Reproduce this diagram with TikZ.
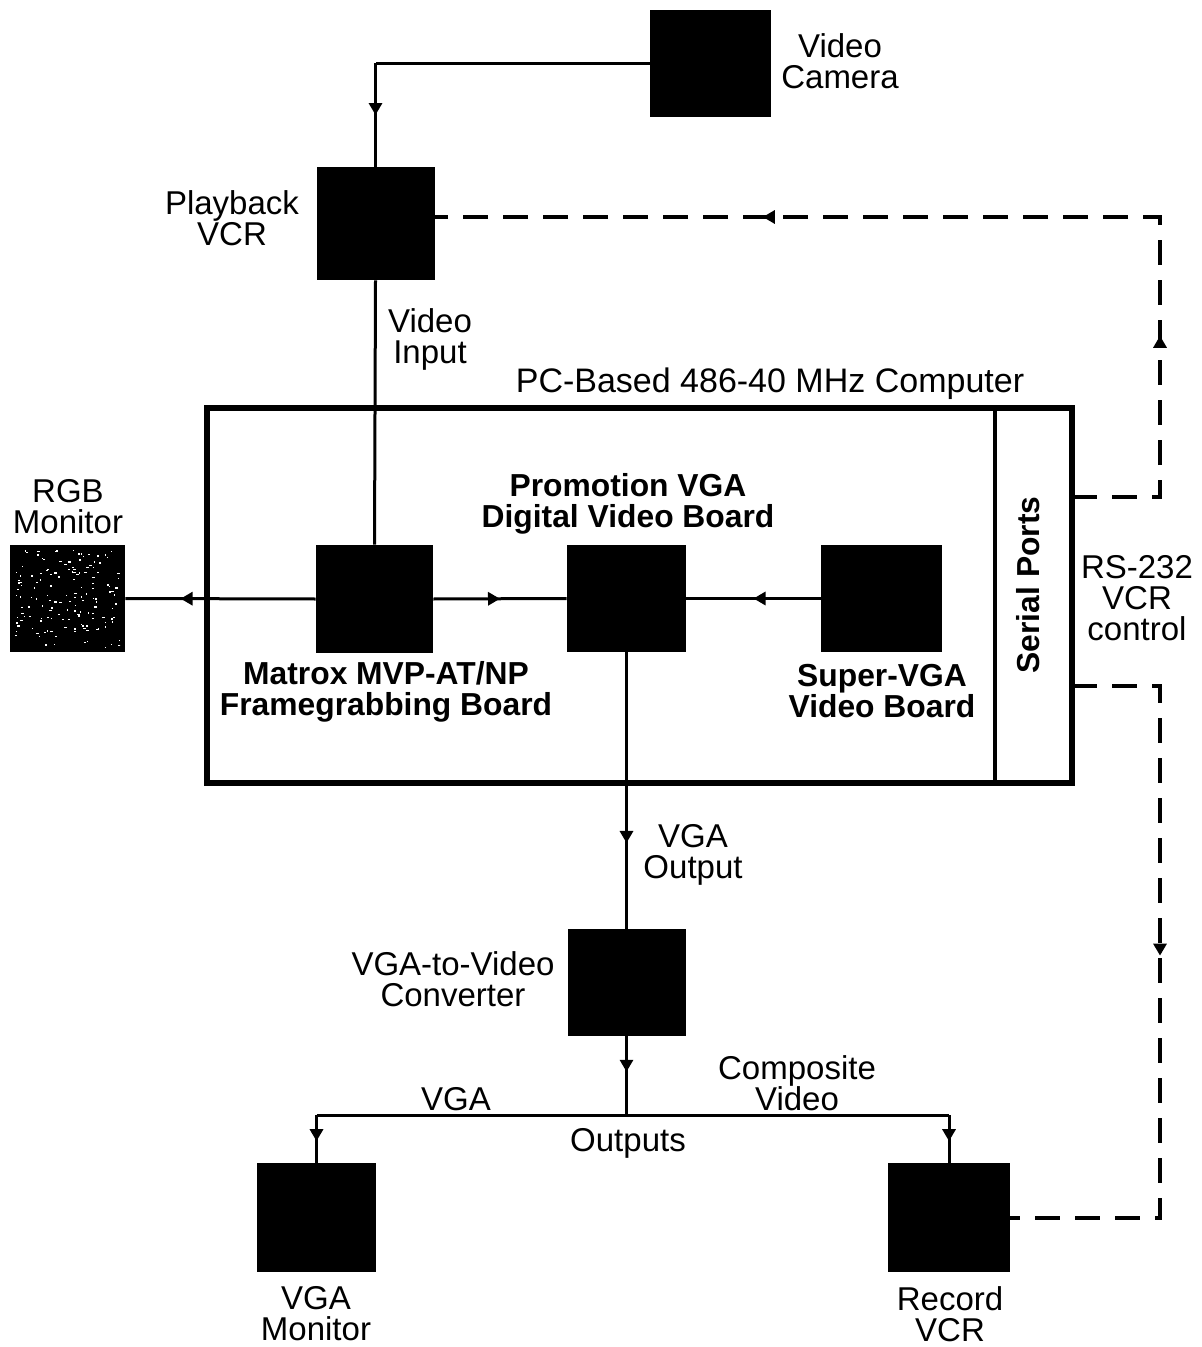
\documentclass[tikz,border=0pt]{standalone}
\usepackage{fontspec}
\setmainfont{Liberation Sans}
\usetikzlibrary{arrows.meta,decorations.markings,calc}
\begin{document}
\begin{tikzpicture}[x=0.5pt,y=-0.5pt,
  blk/.style={fill=black,draw=none,inner sep=0pt},
  lbl/.style={align=center,inner sep=0pt,font=\fontsize{16.5}{15.5}\selectfont},
  blbl/.style={align=center,inner sep=0pt,font=\fontsize{15.9}{15.5}\selectfont\bfseries},
  conn/.style={line width=1.5pt},
  dconn/.style={line width=2pt,dash pattern=on 12.5pt off 7.5pt},
  arrowat/.style={postaction={decorate},decoration={markings,mark=at position #1 with {\arrow{Triangle[length=6pt,width=6.5pt]}}}},
  arrowtwo/.style 2 args={postaction={decorate},decoration={markings,
     mark=at position #1 with {\arrow{Triangle[length=6pt,width=6.5pt]}},
     mark=at position #2 with {\arrow{Triangle[length=6pt,width=6.5pt]}}}}]
\useasboundingbox (0,0) rectangle (1201,1347);

% black boxes
\node[blk,minimum width=60.5pt,minimum height=53.5pt] (cam) at (710.5,63.5) {};
\node[blk,minimum width=59pt,minimum height=56.5pt] (pb) at (375.5,223.5) {};
\node[blk,minimum width=57.5pt,minimum height=53.5pt] (rgb) at (67.5,598.5) {};
\node[blk,minimum width=58.5pt,minimum height=54pt] (mx) at (374.5,599) {};
\node[blk,minimum width=59.5pt,minimum height=53.5pt] (pr) at (626.5,598.5) {};
\node[blk,minimum width=60.5pt,minimum height=53.5pt] (sv) at (881.5,598.5) {};
\node[blk,minimum width=59pt,minimum height=53.5pt] (cv) at (626.5,982.5) {};
\node[blk,minimum width=59.5pt,minimum height=54.5pt] (vm) at (316.5,1217.5) {};
\node[blk,minimum width=61pt,minimum height=54.5pt] (rv) at (949,1217.5) {};

% speckles on RGB monitor
\begin{scope}
\clip (15,550) rectangle (120,647);
\pgfmathsetseed{11}
\foreach \i in {1,...,150}{
  \pgfmathsetmacro\rx{15+rnd*105}
  \pgfmathsetmacro\ry{550+rnd*97}
  \pgfmathsetmacro\rw{0.8+rnd*2.2}
  \fill[white] (\rx,\ry) rectangle ++(\rw,1.3);
}
\end{scope}

% computer enclosure
\node[draw,line width=3pt,inner sep=0pt,minimum width=432.5pt,minimum height=187.5pt] (comp) at (639.5,595.5) {};
\node[draw,line width=2pt,inner sep=0pt,minimum width=38.5pt,minimum height=187.5pt] (sp) at (1033.5,595.5) {};
\node[blbl,rotate=90] (splbl) at (1028,585) {Serial Ports};

% labels
\node[lbl] (camlbl) at (840,61) {Video\\Camera};
\node[lbl] (pblbl) at (232,218) {Playback\\VCR};
\node[lbl] (vilbl) at (430,339) {Video\\Input};
\node[lbl,font=\fontsize{17}{15.5}\selectfont] (complbl) at (770,384) {PC-Based 486-40 MHz Computer};
\node[lbl] (rgblbl) at (68,507) {RGB\\Monitor};
\node[blbl] (prlbl) at (628,504) {Promotion VGA\\Digital Video Board};
\node[blbl] (mxlbl) at (386,692) {Matrox MVP-AT/NP\\Framegrabbing Board};
\node[blbl] (svlbl) at (882,691) {Super-VGA\\Video Board};
\node[lbl] (rslbl) at (1137,598) {RS-232\\VCR\\control};
\node[lbl] (volbl) at (693,855) {VGA\\Output};
\node[lbl] (cvlbl) at (453,979) {VGA-to-Video\\Converter};
\node[lbl] (vgalbl) at (456,1099) {VGA};
\node[lbl] (cmplbl) at (797,1083) {Composite\\Video};
\node[lbl] (outlbl) at (628,1143) {Outputs};
\node[lbl] (vmlbl) at (316,1314) {VGA\\Monitor};
\node[lbl] (rvlbl) at (950,1314) {Record\\VCR};

% solid connectors
\coordinate (c1) at (pb.north |- cam.west);
\draw[conn] (cam.west) -- (c1);
\draw[conn,arrowat=0.5] (c1) -- (pb.north);
\draw[conn] (pb.south) -- (mx.north);
\draw[conn,arrowat=0.71] (mx.west) -- (rgb.east);
\draw[conn,arrowat=0.5] (mx.east) -- (pr.west);
\draw[conn,arrowat=0.5] (sv.west) -- (pr.east);
\draw[conn,arrowat=0.69] (pr.south) -- (cv.north);
\coordinate (br) at (626.5,1115);
\coordinate (bl) at (vm.north |- br);
\coordinate (brr) at (rv.north |- br);
\draw[conn,arrowat=0.45] (cv.south) -- (br);
\draw[conn] (bl) -- (brr);
\draw[conn,arrowat=0.55] (bl) -- (vm.north);
\draw[conn,arrowat=0.55] (brr) -- (rv.north);

% dashed RS-232 control lines
\coordinate (dA) at (1072,497);
\coordinate (dB) at (1160,497);
\coordinate (dC) at (1160,217);
\draw[dconn,arrowtwo={0.228}{0.70}] (dA) -- (dB) -- (dC) -- (pb.east |- dC);
\coordinate (dD) at (1072,686);
\coordinate (dE) at (1160,686);
\coordinate (dF) at (1160,1217.5);
\draw[dconn,arrowat=0.465] (dD) -- (dE) -- (dF) -- (rv.east);
\end{tikzpicture}
\end{document}
